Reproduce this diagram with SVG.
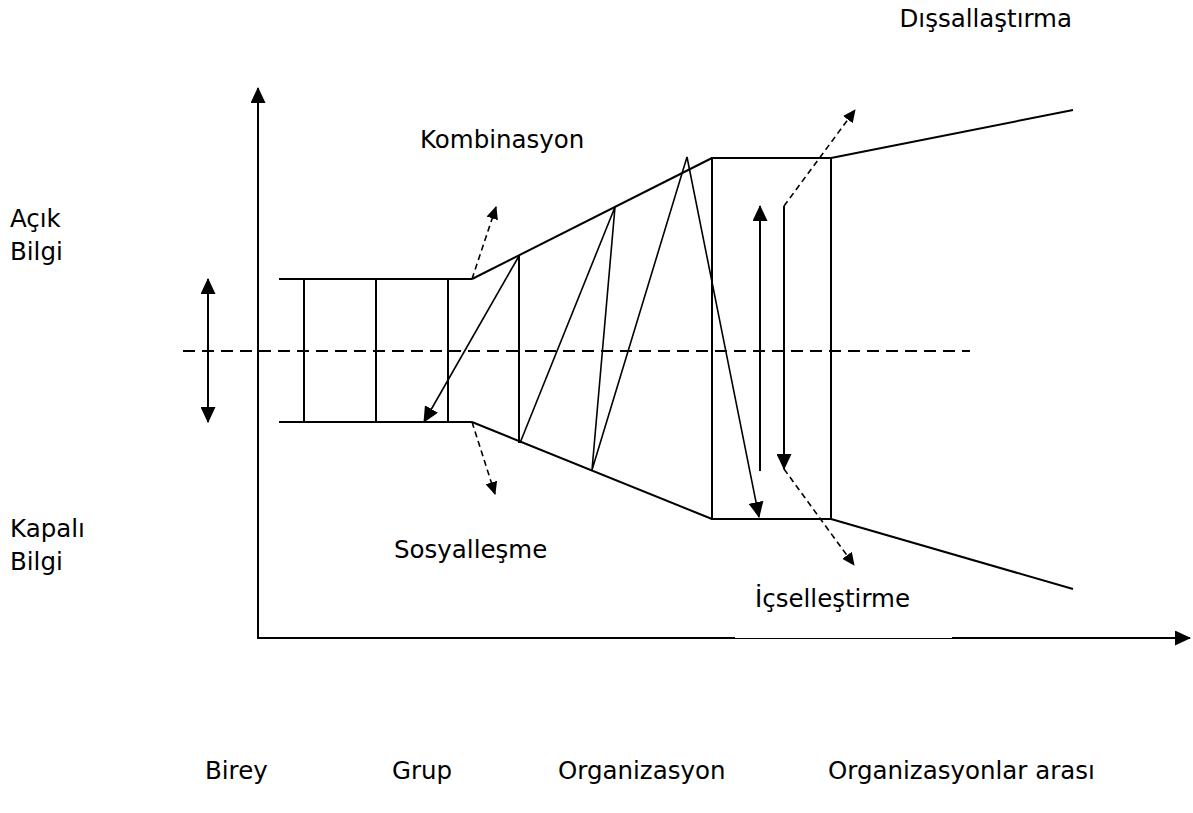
<svg xmlns="http://www.w3.org/2000/svg" width="1193" height="813" viewBox="0 0 1193 813">
  <style>
    .ln { stroke: #000; stroke-width: 2; fill: none; }
    .thin { stroke: #000; stroke-width: 1.6; fill: none; }
    .dash { stroke: #000; stroke-width: 2; fill: none; stroke-dasharray: 12 7; }
    .sdash { stroke: #000; stroke-width: 1.6; fill: none; stroke-dasharray: 6 4; }
    text { font-family: "DejaVu Sans", Verdana, sans-serif; font-size: 24.5px; fill: #000; }
  </style>
  <defs>
    <marker id="head" viewBox="0 0 16 15" refX="15" refY="7.5" markerWidth="16" markerHeight="15" markerUnits="userSpaceOnUse" orient="auto-start-reverse">
      <path d="M0,0 L16,7.5 L0,15 z" fill="#000"/>
    </marker>
    <marker id="small" viewBox="0 0 13 12" refX="12" refY="6" markerWidth="13" markerHeight="12" markerUnits="userSpaceOnUse" orient="auto">
      <path d="M0,0 L13,6 L0,12 z" fill="#000"/>
    </marker>
  </defs>
  <rect width="1193" height="813" fill="#fff"/>

  <!-- axes -->
  <g id="axes">
    <line class="ln" x1="258" y1="639" x2="258" y2="88" marker-end="url(#head)"/>
    <line class="ln" x1="257" y1="638" x2="1190" y2="638" marker-end="url(#head)"/>
  </g>

  <!-- tacit / explicit divider -->
  <line id="divider" class="dash" x1="183" y1="351" x2="970" y2="351"/>

  <!-- individual and group stages -->
  <g id="individual-group">
    <line class="ln" x1="279" y1="279" x2="472" y2="279"/>
    <line class="ln" x1="279" y1="422" x2="472" y2="422"/>
    <line class="ln" x1="304" y1="279" x2="304" y2="422"/>
    <line class="ln" x1="376" y1="279" x2="376" y2="422"/>
    <line class="ln" x1="448" y1="279" x2="448" y2="422"/>
  </g>

  <!-- organisation stage: widening spiral -->
  <g id="organization">
    <line class="ln" x1="472" y1="279" x2="712" y2="158"/>
    <line class="ln" x1="472" y1="422" x2="712" y2="519"/>
    <line class="ln" x1="519" y1="256" x2="519" y2="443"/>
  </g>

  <!-- inter-organisation stage -->
  <g id="inter-organization">
    <rect class="ln" x="712" y="158" width="119" height="361"/>
    <line class="ln" x1="831" y1="158" x2="1073" y2="110"/>
    <line class="ln" x1="831" y1="519" x2="1073" y2="589"/>
  </g>

  <!-- connectors -->
  <g id="connectors">
    <line class="ln" x1="208" y1="279" x2="208" y2="422" marker-start="url(#head)" marker-end="url(#head)"/>
    <line class="thin" x1="519" y1="256" x2="424" y2="422" marker-end="url(#head)"/>
    <polyline class="thin" points="520,443 615,207 592,470 687,157 759,517" marker-end="url(#head)"/>
    <line class="ln" x1="760" y1="471" x2="760" y2="206" marker-end="url(#head)"/>
    <line class="ln" x1="784" y1="206" x2="784" y2="469" marker-end="url(#head)"/>
    <line class="sdash" x1="472" y1="279" x2="496" y2="207" marker-end="url(#small)"/>
    <line class="sdash" x1="472" y1="422" x2="495" y2="494" marker-end="url(#small)"/>
    <line class="sdash" x1="784" y1="206" x2="855" y2="110" marker-end="url(#small)"/>
    <line class="sdash" x1="784" y1="469" x2="854" y2="565" marker-end="url(#small)"/>
  </g>

  <!-- labels -->
  <g id="label-dissallastirma"><text x="1072" y="27" text-anchor="end">Dışsallaştırma</text></g>
  <g id="label-kombinasyon"><text x="420" y="148">Kombinasyon</text></g>
  <g id="label-acik"><text x="10" y="227">Açık</text><text x="10" y="260">Bilgi</text></g>
  <g id="label-kapali"><text x="10" y="537">Kapalı</text><text x="10" y="570">Bilgi</text></g>
  <g id="label-sosyallesme"><text x="394" y="558">Sosyalleşme</text></g>
  <g id="label-icsellestirme">
    <rect x="735" y="583" width="217" height="55" fill="#fff"/>
    <text x="755" y="607">İçselleştirme</text>
  </g>
  <g id="label-birey"><text x="205" y="779">Birey</text></g>
  <g id="label-grup"><text x="392" y="779">Grup</text></g>
  <g id="label-organizasyon"><text x="558" y="779">Organizasyon</text></g>
  <g id="label-organizasyonlar"><text x="828" y="779">Organizasyonlar arası</text></g>
</svg>
